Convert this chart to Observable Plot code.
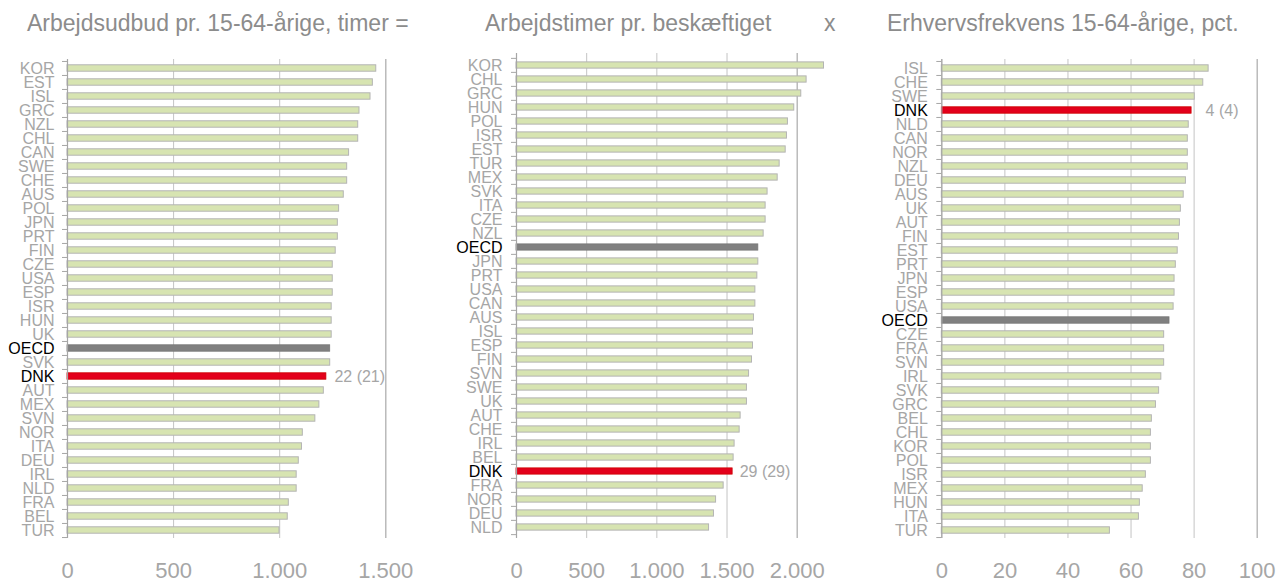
<!DOCTYPE html>
<html>
<head>
<meta charset="utf-8">
<script src="https://cdn.jsdelivr.net/npm/d3@7"></script>
<script src="https://cdn.jsdelivr.net/npm/@observablehq/plot@0.6"></script>
<style>
  html, body { margin: 0; padding: 0; background: #fff; }
  #wrap { position: relative; width: 1285px; height: 583px; overflow: hidden; font-family: "Liberation Sans", Arial, sans-serif; }
  .panel { position: absolute; top: 0; }
  .title { position: absolute; top: 10px; font-size: 23px; color: #8c8c8c; white-space: nowrap; }
  g[aria-label="catlabel"] text { letter-spacing: -0.6px; }
</style>
</head>
<body>
<div id="wrap"></div>
<script>
// ---- Data ----
const countries1 = ["KOR","EST","ISL","GRC","NZL","CHL","CAN","SWE","CHE","AUS","POL","JPN","PRT","FIN","CZE","USA","ESP","ISR","HUN","UK","OECD","SVK","DNK","AUT","MEX","SVN","NOR","ITA","DEU","IRL","NLD","FRA","BEL","TUR"];
const values1 = [1455,1439,1428,1376,1370,1370,1327,1318,1318,1302,1280,1274,1274,1264,1250,1250,1250,1245,1245,1245,1238,1238,1220,1208,1187,1168,1109,1105,1090,1080,1080,1043,1038,999];
const ticks1 = [0,500,1000,1500];
const title1 = "Arbejdsudbud pr. 15-64-årige, timer =";
const note1 = "22 (21)";

const countries2 = ["KOR","CHL","GRC","HUN","POL","ISR","EST","TUR","MEX","SVK","ITA","CZE","NZL","OECD","JPN","PRT","USA","CAN","AUS","ISL","ESP","FIN","SVN","SWE","UK","AUT","CHE","IRL","BEL","DNK","FRA","NOR","DEU","NLD"];
const values2 = [2191,2067,2029,1979,1934,1927,1918,1875,1861,1789,1775,1775,1761,1723,1723,1716,1702,1702,1692,1685,1685,1678,1657,1642,1642,1597,1590,1554,1547,1540,1476,1422,1407,1372];
const ticks2 = [0,500,1000,1500,2000];
const title2 = "Arbejdstimer pr. beskæftiget";
const note2 = "29 (29)";

const countries3 = ["ISL","CHE","SWE","DNK","NLD","CAN","NOR","NZL","DEU","AUS","UK","AUT","FIN","EST","PRT","JPN","ESP","USA","OECD","CZE","FRA","SVN","IRL","SVK","GRC","BEL","CHL","KOR","POL","ISR","MEX","HUN","ITA","TUR"];
const values3 = [84.6,82.9,80.2,79.2,78.3,78.0,78.0,78.0,77.4,76.7,75.8,75.5,75.2,74.8,74.2,73.8,73.8,73.5,72.2,70.5,70.5,70.5,69.6,68.9,67.9,66.6,66.3,66.3,66.3,64.7,63.7,62.8,62.5,53.3];
const ticks3 = [0,20,40,60,80,100];
const title3 = "Erhvervsfrekvens 15-64-årige, pct.";
const note3 = "4 (4)";

const operatorSign = "x";

// ---- Styling ----
const GRAY = "#a6a6a6";
const GREEN = "#d7e4b1";
const BAR_STROKE = "#b4b4b4";
const OECD_FILL = "#808080";
const DNK_FILL = "#e3001b";
const danish = d3.formatLocale({decimal: ",", thousands: ".", grouping: [3], currency: ["", " kr."]});
const fmt = danish.format(",");

function panel({countries, values, ticks, note, left, width, mL, mR, mT, mB, noteDx, labelDx}) {
  const H = 583;
  const data = countries.map((c, i) => ({c, v: values[i]}));
  const step = (H - mT - mB) / countries.length;
  const inset = (step - 6.5) / 2;
  const xmax = ticks[ticks.length - 1];
  const base = data.filter(d => d.c !== "OECD" && d.c !== "DNK");
  const oecd = data.filter(d => d.c === "OECD");
  const dnk = data.filter(d => d.c === "DNK");
  const svg = Plot.plot({
    width, height: H,
    marginLeft: mL, marginRight: mR, marginTop: mT, marginBottom: mB,
    style: {fontFamily: "'Liberation Sans', Arial, sans-serif", background: "transparent", overflow: "visible"},
    x: {domain: [0, xmax], axis: null},
    y: {domain: countries, padding: 0, axis: null},
    marks: [
      Plot.gridX(ticks.slice(0, -1), {stroke: "#c4c4c4", strokeOpacity: 1}),
      Plot.ruleX([xmax], {stroke: "#b0b0b0", strokeWidth: 1.3}),
      Plot.axisX({ticks, tickSize: 0, tickPadding: 24, tickFormat: fmt, fontSize: 22, fill: GRAY, label: null}),
      Plot.barX(base, {x: "v", y: "c", fill: GREEN, stroke: BAR_STROKE, strokeWidth: 1, insetTop: inset, insetBottom: inset}),
      Plot.barX(oecd, {x: "v", y: "c", fill: OECD_FILL, stroke: "#777", strokeWidth: 0.8, insetTop: inset, insetBottom: inset}),
      Plot.barX(dnk, {x: "v", y: "c", fill: DNK_FILL, stroke: "#c00", strokeWidth: 0.8, insetTop: inset, insetBottom: inset}),
      Plot.ruleX([0], {stroke: GRAY, strokeWidth: 1.2}),
      Plot.axisY({tickSize: 5, stroke: GRAY, fill: "none", dy: -step / 2, label: null}),
      Plot.axisY([countries[countries.length - 1]], {tickSize: 5, stroke: GRAY, fill: "none", dy: step / 2, label: null}),
      Plot.text(countries, {y: d => d, frameAnchor: "left", textAnchor: "end", dx: labelDx, fontSize: 16,
        fill: d => (d === "OECD" || d === "DNK") ? "#000" : GRAY, ariaLabel: "catlabel"}),
      Plot.text(dnk, {x: "v", y: "c", text: () => note, textAnchor: "start", dx: noteDx, fontSize: 16, fill: GRAY})
    ]
  });
  const div = document.createElement("div");
  div.className = "panel";
  div.style.left = left + "px";
  div.appendChild(svg);
  return div;
}

const wrap = document.getElementById("wrap");
wrap.appendChild(panel({countries: countries1, values: values1, ticks: ticks1, note: note1, left: 0, width: 428, mL: 67, mR: 42.7, mT: 59, mB: 45, noteDx: 8, labelDx: -13}));
wrap.appendChild(panel({countries: countries2, values: values2, ticks: ticks2, note: note2, left: 430, width: 428, mL: 86, mR: 61.3, mT: 53, mB: 45, noteDx: 7, labelDx: -14}));
wrap.appendChild(panel({countries: countries3, values: values3, ticks: ticks3, note: note3, left: 857, width: 428, mL: 84.3, mR: 28.3, mT: 59, mB: 45, noteDx: 14, labelDx: -14}));

function addTitle(text, x) {
  const t = document.createElement("div");
  t.className = "title";
  t.style.left = x + "px";
  t.textContent = text;
  wrap.appendChild(t);
}
addTitle(title1, 27);
addTitle(title2, 485);
addTitle(operatorSign, 824);
addTitle(title3, 887);
</script>
</body>
</html>
